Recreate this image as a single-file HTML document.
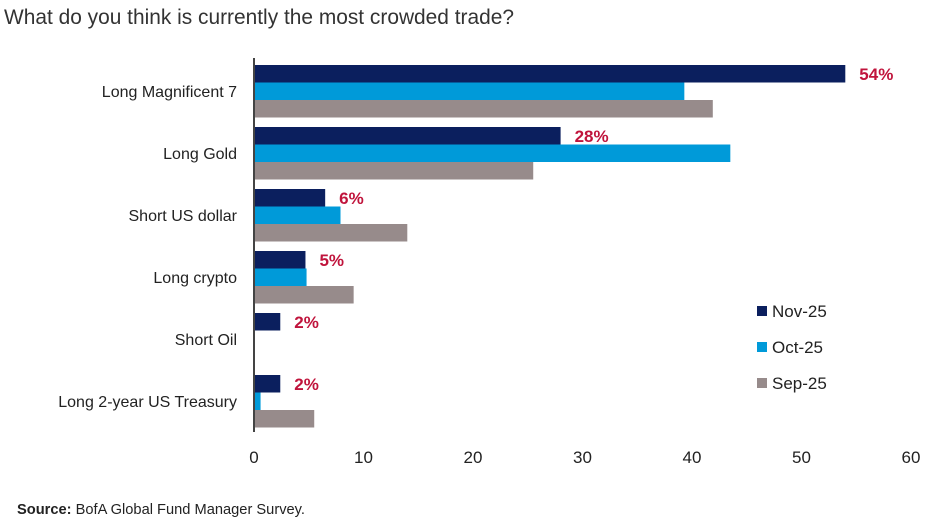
<!DOCTYPE html>
<html><head><meta charset="utf-8"><style>
body{margin:0;background:#fff;width:931px;height:525px;overflow:hidden;font-family:"Liberation Sans",sans-serif}
</style></head><body>
<svg id="chart" width="931" height="525" font-family="Liberation Sans, sans-serif">
<text x="4" y="24" font-size="21" fill="#333" textLength="510" lengthAdjust="spacingAndGlyphs">What do you think is currently the most crowded trade?</text>
<g id="bars"></g>
<line x1="254" y1="58" x2="254" y2="432" stroke="#444" stroke-width="2"/>
<g id="xticks"></g>
<g id="legend"></g>
<text x="17" y="514" font-size="15" fill="#222" textLength="288" lengthAdjust="spacingAndGlyphs"><tspan font-weight="bold">Source:</tspan> BofA Global Fund Manager Survey.</text>
</svg>
<script>
const categories=["Long Magnificent 7","Long Gold","Short US dollar","Long crypto","Short Oil","Long 2-year US Treasury"];
const seriesNames=["Nov-25","Oct-25","Sep-25"];
const nov=[54,28,6.5,4.7,2.4,2.4];
const oct=[39.3,43.5,7.9,4.8,0,0.6];
const sep=[41.9,25.5,14,9.1,0,5.5];
const novLabels=["54%","28%","6%","5%","2%","2%"];
const ticks=[0,10,20,30,40,50,60];
const colors=["#0b1f5e","#009ad9","#978b8b"];
const svg=document.getElementById('chart'),NS="http://www.w3.org/2000/svg";
const x=v=>254+v*(911-254)/60;
const gy=i=>65+i*62;
function mk(t,a,p){const e=document.createElementNS(NS,t);for(const k in a)e.setAttribute(k,a[k]);p.appendChild(e);return e;}
const bars=document.getElementById('bars');
const series=[nov,oct,sep];
categories.forEach((c,i)=>{
  series.forEach((s,j)=>{
    if(s[i]<=0)return;
    const r=mk('rect',{x:254,y:gy(i)+j*17.5,width:x(s[i])-254,height:17.5,fill:colors[j]},bars);
    
    
  });
  const t=mk('text',{x:x(nov[i])+14,y:gy(i)+15,'font-size':17,'font-weight':'bold',fill:'#c0143c'},bars);
  t.textContent=novLabels[i];
  
  
  const l=mk('text',{x:237,y:gy(i)+32,'font-size':16,fill:'#222','text-anchor':'end'},bars);
  l.textContent=c;
  
  
});
const xt=document.getElementById('xticks');
ticks.forEach(v=>{
  const t=mk('text',{x:x(v),y:463,'font-size':17,fill:'#222','text-anchor':'middle'},xt);
  t.textContent=v;
  
  
});
const lg=document.getElementById('legend');
seriesNames.forEach((n,j)=>{
  const g=mk('g',{},lg);
  
  
  mk('rect',{x:757,y:306+j*36,width:10,height:10,fill:colors[j]},g);
  const t=mk('text',{x:772,y:317+j*36,'font-size':17,fill:'#222'},g);
  t.textContent=n;
});
</script>
</body></html>
